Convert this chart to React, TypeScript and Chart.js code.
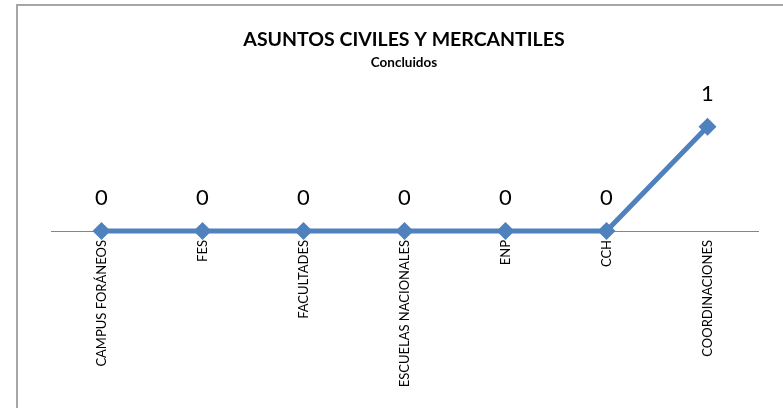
import React, { useEffect, useRef } from "react";
import { Chart, registerables } from "chart.js";

Chart.register(...registerables);

const categories = [
  "CAMPUS FORÁNEOS",
  "FES",
  "FACULTADES",
  "ESCUELAS NACIONALES",
  "ENP",
  "CCH",
  "COORDINACIONES",
];
const concluidos = [0, 0, 0, 0, 0, 0, 1];
const titleText = "ASUNTOS CIVILES Y MERCANTILES";
const subtitleText = "Concluidos";

const FONT = "Lato, 'Open Sans', sans-serif";
const BLUE = "#4f81bd";

const framePlugin = {
  id: "frame",
  beforeDraw(chart: any) {
    const ctx = chart.ctx;
    ctx.save();
    ctx.fillStyle = "#ffffff";
    ctx.fillRect(0, 0, chart.width, chart.height);
    ctx.strokeStyle = "#a6a6a6";
    ctx.lineWidth = 2;
    ctx.beginPath();
    ctx.moveTo(17, chart.height + 2);
    ctx.lineTo(17, 5);
    ctx.lineTo(chart.width + 2, 5);
    ctx.stroke();
    // titles
    ctx.fillStyle = "#000000";
    ctx.textAlign = "center";
    ctx.textBaseline = "alphabetic";
    ctx.font = `bold 19.5px ${FONT}`;
    ctx.fillText(titleText, 404, 46);
    ctx.font = `bold 13.5px ${FONT}`;
    ctx.fillText(subtitleText, 404, 67);
    ctx.restore();
  },
};

const valueLabelPlugin = {
  id: "valueLabels",
  afterDatasetsDraw(chart: any) {
    const ctx = chart.ctx;
    ctx.save();
    ctx.fillStyle = "#000000";
    ctx.textAlign = "center";
    ctx.textBaseline = "alphabetic";
    ctx.font = `22px ${FONT}`;
    chart.data.datasets.forEach((ds: any, i: number) => {
      const meta = chart.getDatasetMeta(i);
      meta.data.forEach((pt: any, j: number) => {
        ctx.fillText(String(ds.data[j]), pt.x, pt.y - 26);
      });
    });
    ctx.restore();
  },
};

export default function App() {
  const ref = useRef<HTMLCanvasElement | null>(null);
  useEffect(() => {
    if (!ref.current) return;
    const chart = new Chart(ref.current, {
      type: "line",
      data: {
        labels: categories,
        datasets: [
          {
            label: subtitleText,
            data: concluidos,
            borderColor: BLUE,
            backgroundColor: BLUE,
            borderWidth: 5,
            pointStyle: "rectRot",
            pointRadius: 9,
            pointBorderWidth: 0,
            pointBackgroundColor: BLUE,
            pointBorderColor: BLUE,
            tension: 0,
            clip: false as any,
          },
        ],
      },
      options: {
        animation: false,
        responsive: false,
        maintainAspectRatio: false,
        layout: { padding: { left: 51, right: 25, top: 106, bottom: 0 } },
        plugins: {
          legend: { display: false },
          title: { display: false },
          tooltip: { enabled: false },
        },
        scales: {
          x: {
            type: "category",
            offset: true,
            grid: { display: false, drawTicks: false },
            border: { display: true, color: "#868686", width: 1 },
            ticks: {
              autoSkip: false,
              minRotation: 90,
              maxRotation: 90,
              padding: 9,
              color: "#000000",
              font: { family: FONT, size: 13 },
            },
            afterFit(scale: any) {
              scale.height = 177;
            },
          },
          y: {
            display: false,
            min: 0,
            max: 1.2,
          },
        },
      },
      plugins: [framePlugin, valueLabelPlugin],
    });
    return () => chart.destroy();
  }, []);
  return (
    <div style={{ position: "absolute", left: 0, top: 0, width: 783, height: 408 }}>
      <canvas ref={ref} width={783} height={408} style={{ display: "block", width: 783, height: 408 }} />
    </div>
  );
}
